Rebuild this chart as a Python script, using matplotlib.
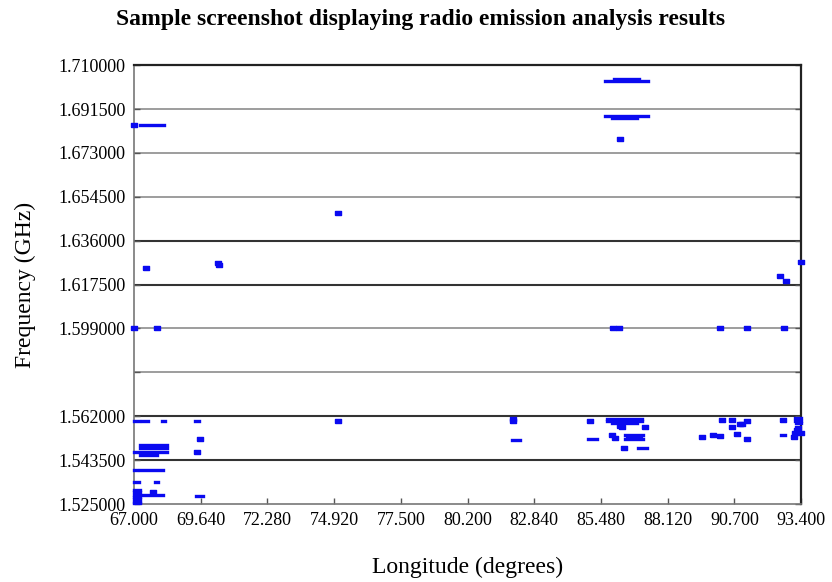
import numpy as np
import matplotlib
matplotlib.use('Agg')
import matplotlib.pyplot as plt

plt.rcParams['font.family'] = ['Liberation Serif', 'DejaVu Serif']

# tick labels
x_labels = ['67.000', '69.640', '72.280', '74.920', '77.500', '80.200',
            '82.840', '85.480', '88.120', '90.700', '93.400']
y_values = [1.525, 1.5435, 1.562, 1.5805, 1.599, 1.6175, 1.636,
            1.6545, 1.673, 1.6915, 1.710]
y_labels = ['1.525000', '1.543500', '1.562000', '', '1.599000', '1.617500',
            '1.636000', '1.654500', '1.673000', '1.691500', '1.710000']

# single detections (longitude, frequency)
pt_lon = [67.0, 75.09, 67.46, 70.34, 70.36, 67.0, 67.9, 86.22, 93.4, 92.57, 92.79,
          85.95, 86.21, 90.17, 91.27, 92.70,
          75.09, 69.61, 69.48, 67.76,
          82.0, 82.0, 85.05, 86.30, 87.22, 86.24, 85.90, 86.04, 86.37,
          90.26, 90.66, 90.66, 90.98, 91.05, 91.24, 89.47, 89.90, 90.19, 90.85, 91.24,
          92.68, 93.29, 93.16, 93.10, 93.4, 93.25]
pt_freq = [1.6847, 1.6475, 1.6247, 1.6268, 1.6257, 1.599, 1.599, 1.6787, 1.6269, 1.6210, 1.6190,
           1.599, 1.599, 1.599, 1.599, 1.599,
           1.5601, 1.5523, 1.5468, 1.5302,
           1.5607, 1.5598, 1.5600, 1.5576, 1.5576, 1.5580, 1.5541, 1.5527, 1.5488,
           1.5603, 1.5603, 1.5576, 1.5587, 1.5587, 1.5601, 1.5534, 1.5541, 1.5537, 1.5544, 1.5523,
           1.5603, 1.5569, 1.5548, 1.5531, 1.5549, 1.5560]

# continuous runs (start lon, end lon, frequency)
run_start = [67.24, 85.64, 86.0, 85.64, 85.9,
             67.0, 67.3, 68.1, 69.41,
             67.24, 67.24, 67.0, 67.24, 67.0, 67.24, 67.0, 67.83,
             67.0, 67.0, 67.0, 67.0, 67.0, 67.0, 67.0,
             67.3, 69.44,
             81.95, 85.71, 85.71, 85.9, 84.98, 86.43, 86.50, 86.43, 86.96,
             93.16, 93.16, 93.2, 92.6]
run_end = [68.19, 87.32, 87.0, 87.32, 86.9,
           67.2, 67.57, 68.23, 69.57,
           68.29, 68.29, 68.29, 67.9, 67.12, 68.14, 67.2, 67.96,
           67.25, 67.25, 67.25, 67.25, 67.25, 67.25, 67.25,
           68.16, 69.74,
           82.28, 87.09, 87.09, 86.9, 85.31, 87.16, 87.05, 87.16, 87.29,
           93.4, 93.4, 93.4, 92.75]
run_freq = [1.6847, 1.7033, 1.7040, 1.6885, 1.6878,
            1.5601, 1.5601, 1.5601, 1.5601,
            1.5499, 1.5488, 1.5468, 1.5457, 1.5393, 1.5393, 1.5344, 1.5344,
            1.5310, 1.5300, 1.5290, 1.5280, 1.5270, 1.5260, 1.5254,
            1.5289, 1.5283,
            1.5520, 1.5610, 1.5600, 1.5591, 1.5523, 1.5541, 1.5532, 1.5522, 1.5488,
            1.5612, 1.5600, 1.5590, 1.5541]

blue = '#0a0af0'
dark_lines = [1.5435, 1.562, 1.6175, 1.636]

fig = plt.figure(figsize=(8.32, 5.82), dpi=100)
ax = fig.add_axes([0.161, 0.134, 0.802, 0.754])

# grid lines
for y in y_values[1:-1]:
    if y in dark_lines:
        ax.axhline(y, color='#333333', lw=1.5, zorder=1)
    else:
        ax.axhline(y, color='#8c8c8c', lw=1.2, zorder=1)

runs = ax.hlines(run_freq, run_start, run_end, color=blue, lw=2.4, zorder=3, clip_on=False)
runs.set_capstyle('projecting')
rect = [(-1, -0.75), (1, -0.75), (1, 0.75), (-1, 0.75), (-1, -0.75)]
ax.plot(pt_lon, pt_freq, linestyle='none', marker=rect, markersize=4,
        color=blue, zorder=3, clip_on=False)

ax.set_xlim(67.0, 93.4)
ax.set_ylim(1.525, 1.710)
ax.set_xticks(np.linspace(67.0, 93.4, len(x_labels)))
ax.set_xticklabels(x_labels, fontsize=13)
ax.set_yticks(y_values)
ax.set_yticklabels(y_labels, fontsize=13)
ax.tick_params(axis='both', direction='in', length=4, width=1, color='#555555', pad=6)
ax.tick_params(axis='y', right=True)

for side in ['top', 'right']:
    ax.spines[side].set_color('#222222')
    ax.spines[side].set_linewidth(1.6)
for side in ['left', 'bottom']:
    ax.spines[side].set_color('#777777')
    ax.spines[side].set_linewidth(1.2)

ax.set_xlabel('Longitude (degrees)', fontsize=17, labelpad=20)
ax.set_ylabel('Frequency (GHz)', fontsize=17, labelpad=16)
fig.suptitle('Sample screenshot displaying radio emission analysis results',
             fontsize=17, fontweight='bold', x=0.506, y=0.985)

fig.savefig('out.png', dpi=100)
